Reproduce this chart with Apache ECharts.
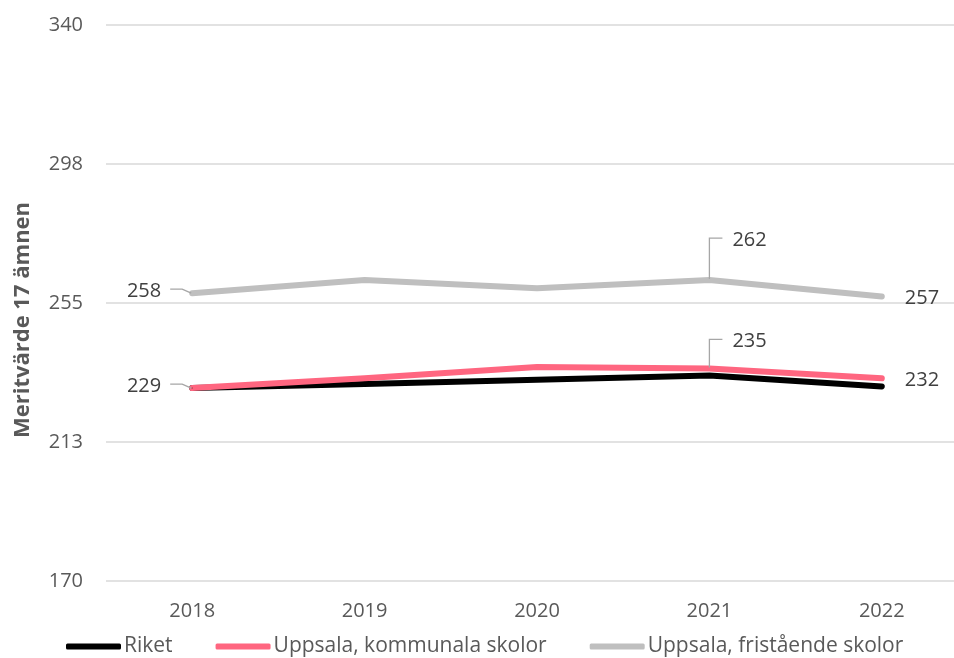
<!DOCTYPE html>
<html>
<head>
<meta charset="utf-8">
<script src="https://cdn.jsdelivr.net/npm/echarts@6/dist/echarts.min.js"></script>
<style>
  html, body { margin: 0; padding: 0; background: #fff; }
  #chart { width: 954px; height: 658px; }
</style>
</head>
<body>
<div id="chart"></div>
<script>
const years = ['2018', '2019', '2020', '2021', '2022']
const riket = [229, 230.2, 231.5, 232.8, 229.5]
const kommunala = [229, 232, 235.4, 235, 232]
const fristaende = [258, 262, 259.5, 262, 257]
const seriesNames = ['Riket', 'Uppsala, kommunala skolor', 'Uppsala, fristående skolor']
const yTicks = [170, 213, 255, 298, 340]
// which points carry a value label: [seriesIndex, dataIndex]
const labelled = [[1, 0], [1, 3], [1, 4], [2, 0], [2, 3], [2, 4]]

const FONT = '"Open Sans", "Noto Sans", sans-serif'
const colors = ['#000000', '#FF6680', '#BFBFBF']

// label offset from its point, by year index
const labelPos = {
  0: { dx: -31, dy: -2, align: 'right' },
  3: { dx: 23, dy: null, align: 'left' },
  4: { dx: 23, dy: 2, align: 'left' }
}
const upOffset = { 1: -27, 2: -40 }

const chart = echarts.init(document.getElementById('chart'))

const makeData = (values, si) => values.map((v, i) => ({
  value: v,
  label: { show: labelled.some(([s, d]) => s === si && d === i) }
}))

const series = [riket, kommunala, fristaende].map((vals, si) => ({
  name: seriesNames[si],
  type: 'line',
  data: makeData(vals, si),
  symbol: 'circle',
  symbolSize: 1,
  showSymbol: true,
  itemStyle: { color: colors[si] },
  lineStyle: { color: colors[si], width: 6, cap: 'round', join: 'round' },
  emphasis: { disabled: true },
  label: {
    formatter: (p) => Math.round(p.value),
    fontFamily: FONT,
    fontSize: 20,
    color: '#404040'
  },
  labelLayout: (p) => {
    const cfg = labelPos[p.dataIndex]
    if (!cfg) return {}
    const px = p.rect.x + p.rect.width / 2
    const py = p.rect.y + p.rect.height / 2
    const dy = cfg.dy !== null ? cfg.dy : upOffset[si]
    return { x: px + cfg.dx, y: py + dy, align: cfg.align, verticalAlign: 'middle' }
  }
}))

chart.setOption({
  animation: false,
  textStyle: { fontFamily: FONT },
  grid: { left: 106, right: -14, top: 25, bottom: 77, containLabel: false, outerBoundsMode: 'none' },
  legend: {
    bottom: 1,
    left: 66,
    padding: 0,
    data: seriesNames,
    icon: 'roundRect',
    itemWidth: 55,
    itemHeight: 6,
    itemGap: 43,
    textStyle: { fontFamily: FONT, fontSize: 21, color: '#595959', padding: [0, 0, 0, -2] }
  },
  xAxis: {
    type: 'category',
    data: years,
    boundaryGap: true,
    axisLine: { show: false },
    axisTick: { show: false },
    axisLabel: { margin: 20, fontSize: 20, color: '#595959', fontFamily: FONT }
  },
  yAxis: {
    type: 'value',
    min: yTicks[0],
    max: yTicks[yTicks.length - 1],
    interval: (yTicks[yTicks.length - 1] - yTicks[0]) / (yTicks.length - 1),
    name: 'Meritvärde 17 ämnen',
    nameLocation: 'middle',
    nameGap: 72,
    nameTextStyle: {
      fontFamily: FONT, fontSize: 22, fontWeight: 'bold', color: '#595959',
      padding: [0, 34, 0, 0]
    },
    axisLine: { show: false },
    axisTick: { show: false },
    axisLabel: {
      margin: 23,
      fontSize: 20,
      color: '#595959',
      fontFamily: FONT,
      formatter: (v) => Math.round(v)
    },
    splitLine: { lineStyle: { color: '#D9D9D9', width: 1.5 } }
  },
  series
})

// leader lines for the labels that sit away from their point
const leaders = []
labelled.forEach(([si, di]) => {
  const vals = [riket, kommunala, fristaende][si]
  const [px, py] = chart.convertToPixel({ seriesIndex: si }, [di, vals[di]])
  let pts = null
  if (di === 0) {
    pts = [[px - 22, py - 4], [px - 10, py - 4], [px - 1, py]]
  } else if (di === 3) {
    const ly = py + upOffset[si] - 2
    pts = [[px, py - 1], [px, ly], [px + 13, ly]]
  }
  if (pts) {
    leaders.push({
      type: 'polyline',
      shape: { points: pts },
      style: { stroke: '#A6A6A6', lineWidth: 1.3, fill: null },
      silent: true,
      z: 10
    })
  }
})
chart.setOption({ graphic: leaders })
</script>
</body>
</html>
